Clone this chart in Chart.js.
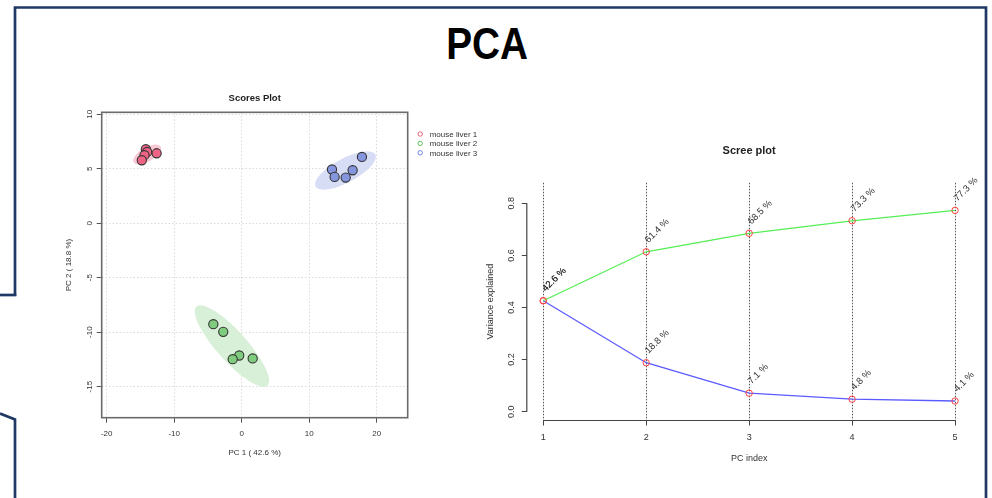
<!DOCTYPE html>
<html>
<head>
<meta charset="utf-8">
<script src="https://cdn.jsdelivr.net/npm/chart.js@4.4.0/dist/chart.umd.min.js"></script>
<style>
html,body{margin:0;padding:0;background:#fff;}
body{width:992px;height:498px;position:relative;overflow:hidden;font-family:"Liberation Sans",Arial,sans-serif;}
#frame{position:absolute;left:0;top:0;}
#pca{position:absolute;left:387px;width:200px;top:21px;text-align:center;font-weight:bold;font-size:45px;line-height:45px;font-family:"Liberation Sans",Arial,sans-serif;color:#000;transform:scaleX(0.86);transform-origin:50% 50%;}
#cA{position:absolute;left:40px;top:80px;}
#cB{position:absolute;left:470px;top:130px;}
</style>
</head>
<body>
<svg id="frame" width="992" height="498">
  <path d="M15,296 L15,7.5 L986,7.5 L986,498" fill="none" stroke="#1F3864" stroke-width="2.7"/>
  <path d="M0,295 L16.3,295" fill="none" stroke="#1F3864" stroke-width="2.7"/>
  <path d="M0,413.5 L15,419.5 L15,498" fill="none" stroke="#1F3864" stroke-width="2.7"/>
</svg>
<div id="pca">PCA</div>
<canvas id="cA" width="450" height="400"></canvas>
<canvas id="cB" width="520" height="350"></canvas>
<script>
// ---------- Scores plot data ----------
const groupNames = ['mouse liver 1', 'mouse liver 2', 'mouse liver 3'];
const liver1PC1 = [-14.2, -14.0, -14.4, -14.8, -12.6];
const liver1PC2 = [6.79, 6.54, 6.24, 5.78, 6.42];
const liver2PC1 = [-4.2, -2.73, -0.36, -1.33, 1.63];
const liver2PC2 = [-9.27, -9.97, -12.14, -12.48, -12.41];
const liver3PC1 = [13.38, 13.77, 15.41, 16.44, 17.82];
const liver3PC2 = [4.93, 4.25, 4.19, 4.86, 6.08];
// confidence ellipses: centre and the two semi-axis vectors, in data units
const ellipseCenters = [[-14.0, 6.31], [-1.44, -11.27], [15.38, 4.84]];
const ellipseAxisU = [[2.0, 0.73], [5.26, -3.63], [4.44, 1.47]];
const ellipseAxisV = [[0.53, -0.55], [1.66, 0.92], [0.83, -0.97]];
const scoresXTicks = [-20, -10, 0, 10, 20];
const scoresYTicks = [-15, -10, -5, 0, 5, 10];

// ---------- Scree plot data ----------
const pcIndex = [1, 2, 3, 4, 5];
const cumulativeVariance = [0.426, 0.614, 0.685, 0.733, 0.773];
const individualVariance = [0.426, 0.188, 0.071, 0.048, 0.041];
const cumulativeLabels = ['42.6 %', '61.4 %', '68.5 %', '73.3 %', '77.3 %'];
const individualLabels = ['42.6 %', '18.8 %', '7.1 %', '4.8 %', '4.1 %'];
const screeXTicks = [1, 2, 3, 4, 5];
const screeYTicks = [0, 0.2, 0.4, 0.6, 0.8];
const screeYTickLabels = ['0.0', '0.2', '0.4', '0.6', '0.8'];

const FONT = '"Liberation Sans", Arial, Helvetica, sans-serif';
Chart.defaults.font.family = FONT;
Chart.defaults.color = '#333';

const pointFills = ['#ee6485', '#7fcc7f', '#8696de'];
const ellipseFills = ['#f7cad4', '#d8efd8', '#d8ddf6'];
const legendColors = ['#e8607a', '#5cbf5c', '#7080e0'];

function toPoints(xs, ys) { return xs.map((x, i) => ({x: x, y: ys[i]})); }

const scoresDecor = {
  id: 'scoresDecor',
  beforeDatasetsDraw(chart) {
    const {ctx, chartArea: a} = chart;
    const xs = chart.scales.x, ys = chart.scales.y;
    ctx.save();
    ctx.beginPath(); ctx.rect(a.left, a.top, a.right - a.left, a.bottom - a.top); ctx.clip();
    ellipseCenters.forEach((c, i) => {
      const u = ellipseAxisU[i], v = ellipseAxisV[i];
      const cx = xs.getPixelForValue(c[0]), cy = ys.getPixelForValue(c[1]);
      const ux = xs.getPixelForValue(c[0] + u[0]) - cx, uy = ys.getPixelForValue(c[1] + u[1]) - cy;
      const vx = xs.getPixelForValue(c[0] + v[0]) - cx, vy = ys.getPixelForValue(c[1] + v[1]) - cy;
      ctx.save();
      ctx.transform(ux, uy, vx, vy, cx, cy);
      ctx.beginPath(); ctx.arc(0, 0, 1, 0, Math.PI * 2);
      ctx.restore();
      ctx.fillStyle = ellipseFills[i];
      ctx.fill();
    });
    ctx.restore();
    ctx.save();
    ctx.strokeStyle = '#6a6a6a'; ctx.lineWidth = 1.6;
    ctx.strokeRect(a.left, a.top, a.right - a.left, a.bottom - a.top);
    ctx.restore();
  },
  afterDraw(chart) {
    const {ctx, chartArea: a} = chart;
    ctx.save();
    ctx.font = '8px ' + FONT; ctx.textBaseline = 'middle'; ctx.textAlign = 'left';
    groupNames.forEach((g, i) => {
      const y = a.top + 21.7 + i * 9.4;
      ctx.beginPath(); ctx.arc(a.right + 12.5, y, 2.2, 0, Math.PI * 2);
      ctx.strokeStyle = legendColors[i]; ctx.lineWidth = 1; ctx.stroke();
      ctx.fillStyle = '#333'; ctx.fillText(g, a.right + 22, y + 0.5);
    });
    ctx.restore();
  }
};

new Chart(document.getElementById('cA'), {
  type: 'scatter',
  data: {
    datasets: [
      {label: groupNames[0], data: toPoints(liver1PC1, liver1PC2)},
      {label: groupNames[1], data: toPoints(liver2PC1, liver2PC2)},
      {label: groupNames[2], data: toPoints(liver3PC1, liver3PC2)}
    ].map((d, i) => Object.assign(d, {
      pointRadius: 4.6, pointHoverRadius: 4.6, pointBackgroundColor: pointFills[i],
      pointBorderColor: '#333', pointBorderWidth: 1.1
    }))
  },
  options: {
    responsive: false, animation: false, events: [],
    layout: {padding: {left: 0, right: 82.3, top: 0, bottom: 0}},
    plugins: {
      legend: {display: false}, tooltip: {enabled: false},
      title: {display: true, text: 'Scores Plot', fullSize: false, color: '#222',
        font: {size: 9.5, weight: 'bold', family: FONT}, padding: {top: 12.3, bottom: 8.6}}
    },
    scales: {
      x: {
        type: 'linear', min: -20.74, max: 24.6, bounds: 'data',
        afterBuildTicks: s => { s.ticks = scoresXTicks.map(v => ({value: v})); },
        afterFit: s => { s.height = 62.3; },
        grid: {color: '#dadada', lineWidth: 1, drawTicks: true, tickLength: 5, tickColor: '#555', tickWidth: 1, tickBorderDash: []},
        border: {display: false, dash: [1.5, 2]},
        ticks: {font: {size: 8}, color: '#333', padding: 5.8, maxRotation: 0, autoSkip: false},
        title: {display: true, text: 'PC 1 ( 42.6 %)', font: {size: 8}, color: '#333', padding: {top: 0, bottom: 22.5}}
      },
      y: {
        type: 'linear', min: -17.85, max: 10.18, bounds: 'data',
        afterBuildTicks: s => { s.ticks = scoresYTicks.map(v => ({value: v})); },
        afterFit: s => { s.width = 61.7; },
        grid: {color: '#dadada', lineWidth: 1, drawTicks: true, tickLength: 5, tickColor: '#555', tickWidth: 1, tickBorderDash: []},
        border: {display: false, dash: [1.5, 2]},
        ticks: {font: {size: 8}, color: '#333', padding: 1.6, minRotation: 90, maxRotation: 90, crossAlign: 'center', autoSkip: false},
        title: {display: true, text: 'PC 2 ( 18.8 %)', font: {size: 8}, color: '#333', padding: {top: 23.5, bottom: 0}}
      }
    }
  },
  plugins: [scoresDecor]
});

const screeDecor = {
  id: 'screeDecor',
  beforeDatasetsDraw(chart) {
    const {ctx, chartArea: a} = chart;
    const xs = chart.scales.x, ys = chart.scales.y;
    ctx.save();
    ctx.strokeStyle = '#444'; ctx.lineWidth = 1.2;
    ctx.beginPath();
    ctx.moveTo(xs.getPixelForValue(screeXTicks[0]), a.bottom);
    ctx.lineTo(xs.getPixelForValue(screeXTicks[screeXTicks.length - 1]), a.bottom);
    ctx.moveTo(a.left, ys.getPixelForValue(screeYTicks[0]));
    ctx.lineTo(a.left, ys.getPixelForValue(screeYTicks[screeYTicks.length - 1]));
    ctx.stroke();
    ctx.restore();
  },
  afterDatasetsDraw(chart) {
    const ctx = chart.ctx;
    ctx.save();
    ctx.font = '9.5px ' + FONT; ctx.fillStyle = '#333';
    ctx.textAlign = 'left'; ctx.textBaseline = 'middle';
    [cumulativeLabels, individualLabels].forEach((labels, d) => {
      chart.getDatasetMeta(d).data.forEach((pt, i) => {
        ctx.save();
        ctx.translate(pt.x + 0.5, pt.y - 10.5);
        ctx.rotate(-Math.PI / 4);
        ctx.fillText(labels[i], 0, 0);
        ctx.restore();
      });
    });
    ctx.restore();
  }
};

new Chart(document.getElementById('cB'), {
  type: 'line',
  data: {
    datasets: [
      {label: 'Cumulative', data: toPoints(pcIndex, cumulativeVariance), borderColor: '#55ee55'},
      {label: 'Individual', data: toPoints(pcIndex, individualVariance), borderColor: '#5b5bff'}
    ].map(d => Object.assign(d, {
      borderWidth: 1.3, tension: 0, fill: false,
      pointRadius: 3.2, pointHoverRadius: 3.2, pointBorderColor: '#ff4040',
      pointBackgroundColor: 'rgba(0,0,0,0)', pointBorderWidth: 1
    }))
  },
  options: {
    responsive: false, animation: false, events: [],
    layout: {padding: {left: 0, right: 18.5, top: 0, bottom: 0}},
    plugins: {
      legend: {display: false}, tooltip: {enabled: false},
      title: {display: true, text: 'Scree plot', fullSize: false, color: '#222',
        font: {size: 11, weight: 'bold', family: FONT}, padding: {top: 14.4, bottom: 25.2}}
    },
    scales: {
      x: {
        type: 'linear', min: 0.84, max: 5.16, bounds: 'data',
        afterBuildTicks: s => { s.ticks = screeXTicks.map(v => ({value: v})); },
        afterFit: s => { s.height = 59.5; },
        grid: {color: '#555', lineWidth: 1, drawTicks: true, tickLength: 5, tickColor: '#444', tickWidth: 1, tickBorderDash: []},
        border: {display: false, dash: [1.5, 1.5]},
        ticks: {font: {size: 9}, color: '#333', padding: 6.3, maxRotation: 0, autoSkip: false},
        title: {display: true, text: 'PC index', font: {size: 9}, color: '#333', padding: {top: 0, bottom: 16.4}}
      },
      y: {
        type: 'linear', min: -0.0338, max: 0.8788, bounds: 'data',
        afterBuildTicks: s => { s.ticks = screeYTicks.map(v => ({value: v})); },
        afterFit: s => { s.width = 56.8; },
        grid: {drawOnChartArea: false, drawTicks: true, tickLength: 5, tickColor: '#444', tickWidth: 1, tickBorderDash: []},
        border: {display: false},
        ticks: {font: {size: 9}, color: '#333', padding: 3.85, minRotation: 90, maxRotation: 90, crossAlign: 'center', autoSkip: false,
          callback: (v, i) => screeYTickLabels[i]},
        title: {display: true, text: 'Variance explained', font: {size: 9}, color: '#333', padding: {top: 15.6, bottom: 0}}
      }
    }
  },
  plugins: [screeDecor]
});
</script>
</body>
</html>
